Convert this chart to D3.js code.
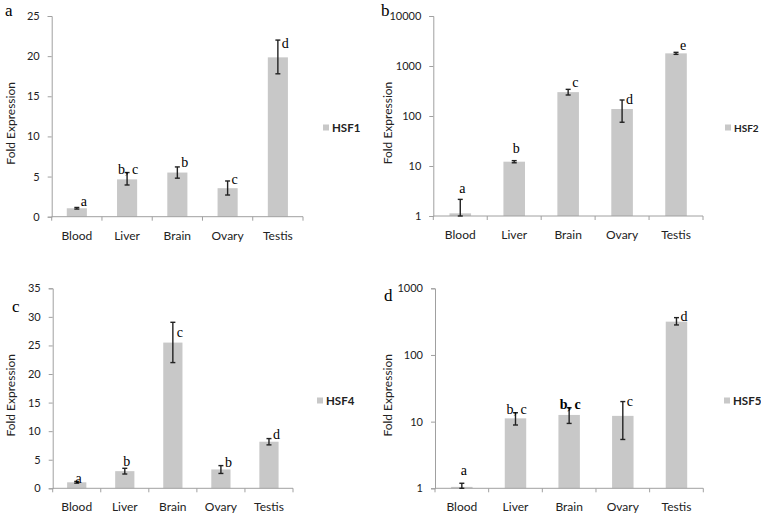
<!DOCTYPE html>
<html>
<head>
<meta charset="utf-8">
<script src="https://cdn.jsdelivr.net/npm/d3@7"></script>
<style>
  body { margin: 0; background: #fff; }
  svg text { font-family: Lato, "Open Sans", sans-serif; }
</style>
</head>
<body>
<svg id="chart" width="761" height="515"></svg>
<script>
// Tissues on the x axis (same for all four panels)
const tissues = ['Blood', 'Liver', 'Brain', 'Ovary', 'Testis'];

// HSF1 (panel a, linear)
const hsf1 = [1.05, 4.65, 5.5, 3.55, 19.85];
const hsf1Lo = [0.95, 3.95, 4.8, 2.7, 17.8];
const hsf1Hi = [1.15, 5.5, 6.2, 4.45, 22.0];
const hsf1Letters = ['a', 'b, c', 'b', 'c', 'd'];

// HSF2 (panel b, log)
const hsf2 = [1.13, 12.2, 300, 138, 1790];
const hsf2Lo = [1, 11.6, 263, 75, 1710];
const hsf2Hi = [2.15, 12.8, 341, 209, 1876];
const hsf2Letters = ['a', 'b', 'c', 'd', 'e'];

// HSF4 (panel c, linear)
const hsf4 = [1.05, 3.0, 25.5, 3.3, 8.15];
const hsf4Lo = [0.9, 2.5, 22.0, 2.6, 7.6];
const hsf4Hi = [1.2, 3.5, 29.05, 3.97, 8.7];
const hsf4Letters = ['a', 'b', 'c', 'b', 'd'];

// HSF5 (panel d, log)
const hsf5 = [1.05, 11.2, 12.6, 12.2, 316];
const hsf5Lo = [1, 8.9, 9.4, 5.4, 282];
const hsf5Hi = [1.19, 13.6, 16.2, 20, 363];
const hsf5Letters = ['a', 'b, c', 'b, c', 'c', 'd'];

const linTicks1 = [0, 5, 10, 15, 20, 25];
const linTicks4 = [0, 5, 10, 15, 20, 25, 30, 35];
const logTicks2 = [1, 10, 100, 1000, 10000];
const logTicks5 = [1, 10, 100, 1000];

// panel layout: axis box, legend spot, where the letters go
// letter mode: r = right of cap, t = centred above cap, c = centred with comma on the bar
const panels = [
  { tag: 'a', tagX: 5, tagY: 16, name: 'HSF1', vals: hsf1, lo: hsf1Lo, hi: hsf1Hi, letters: hsf1Letters,
    log: false, domain: [0, 25], ticks: linTicks1,
    x0: 51.7, x1: 303, y0: 16, y1: 216.7, legX: 323, legY: 128, legSize: 11.5, titleX: 10,
    modes: ['r', 'c', 'r', 'r', 'r'], dy: [-1, 0, 0, 3, 8] },
  { tag: 'b', tagX: 381, tagY: 16, name: 'HSF2', vals: hsf2, lo: hsf2Lo, hi: hsf2Hi, letters: hsf2Letters,
    log: true, domain: [1, 10000], ticks: logTicks2,
    x0: 433.3, x1: 703, y0: 16, y1: 216, legX: 725, legY: 128, legSize: 10, titleX: 387,
    modes: ['t', 't', 'r', 'r', 'r'], dy: [-6, -8, -2, 4, -2] },
  { tag: 'c', tagX: 12, tagY: 312, name: 'HSF4', vals: hsf4, lo: hsf4Lo, hi: hsf4Hi, letters: hsf4Letters,
    log: false, domain: [0, 35], ticks: linTicks4,
    x0: 52.7, x1: 293, y0: 288.3, y1: 488.3, legX: 317, legY: 401, legSize: 11.5, titleX: 10,
    modes: ['t', 't', 'r', 'r', 'r'], dy: [2, -2, 15, 1, 0] },
  { tag: 'd', tagX: 384, tagY: 301, name: 'HSF5', vals: hsf5, lo: hsf5Lo, hi: hsf5Hi, letters: hsf5Letters,
    log: true, domain: [1, 1000], ticks: logTicks5,
    x0: 435, x1: 703.3, y0: 288.3, y1: 488.3, legX: 724, legY: 401, legSize: 11.5, titleX: 387,
    modes: ['t', 'c', 'c', 'r', 'r'], dy: [-8, 0, 0, 4, 3] }
];

const svg = d3.select('#chart');
const barColor = '#c8c8c8';
const axisColor = '#a0a0a0';
const serif = '"Liberation Serif", "DejaVu Serif", serif';

panels.forEach(p => {
  const g = svg.append('g');

  const x = d3.scaleBand().domain(tissues).range([p.x0, p.x1])
    .paddingInner(0.6).paddingOuter(0.3);
  const y = (p.log ? d3.scaleLog() : d3.scaleLinear()).domain(p.domain).range([p.y1, p.y0]);
  const base = p.log ? p.domain[0] : 0;

  // bars
  g.selectAll('rect.bar').data(p.vals).join('rect')
    .attr('class', 'bar')
    .attr('x', (d, i) => x(tissues[i]))
    .attr('width', x.bandwidth())
    .attr('y', d => y(d))
    .attr('height', d => y(base) - y(d))
    .attr('fill', barColor);

  // y axis
  const yAxis = d3.axisLeft(y).tickValues(p.ticks).tickSize(4).tickPadding(8)
    .tickFormat(d3.format('d'));
  const ya = g.append('g').attr('transform', `translate(${p.x0},0)`).call(yAxis);
  ya.select('.domain').attr('stroke', axisColor);
  ya.selectAll('.tick line').attr('stroke', axisColor);
  ya.selectAll('.tick text').attr('fill', '#222')
    .style('font-family', 'Lato, sans-serif').style('font-size', '11px');

  // x axis: line plus ticks at category boundaries
  g.append('line').attr('x1', p.x0).attr('x2', p.x1).attr('y1', p.y1).attr('y2', p.y1)
    .attr('stroke', axisColor);
  const step = x.step();
  d3.range(tissues.length + 1).forEach(k => {
    g.append('line').attr('x1', p.x0 + k * step).attr('x2', p.x0 + k * step)
      .attr('y1', p.y1).attr('y2', p.y1 + 4).attr('stroke', axisColor);
  });
  g.selectAll('text.cat').data(tissues).join('text')
    .attr('class', 'cat')
    .attr('x', d => x(d) + x.bandwidth() / 2)
    .attr('y', p.y1 + 23)
    .attr('text-anchor', 'middle')
    .attr('fill', '#222')
    .style('font-size', '12px')
    .text(d => d);

  // error bars
  p.vals.forEach((v, i) => {
    const cx = x(tissues[i]) + x.bandwidth() / 2;
    const top = y(p.hi[i]);
    const bot = y(Math.max(p.lo[i], p.domain[0]));
    const eb = g.append('g').attr('stroke', '#222').attr('stroke-width', 1.4);
    eb.append('line').attr('x1', cx).attr('x2', cx).attr('y1', top).attr('y2', bot);
    eb.append('line').attr('x1', cx - 2.5).attr('x2', cx + 2.5).attr('y1', top).attr('y2', top);
    eb.append('line').attr('x1', cx - 2.5).attr('x2', cx + 2.5).attr('y1', bot).attr('y2', bot);

    // significance letters
    const m = p.modes[i];
    const t = g.append('text')
      .attr('fill', '#000')
      .style('font-family', serif)
      .style('font-size', '14px')
      .text(p.letters[i]);
    if (p.tag === 'd' && i === 2) t.style('font-weight', 'bold');
    if (m === 'r') {
      t.attr('x', cx + 4).attr('y', top + p.dy[i]).attr('text-anchor', 'start');
    } else if (m === 't') {
      t.attr('x', cx + 2).attr('y', top + p.dy[i]).attr('text-anchor', 'middle');
    } else {
      t.attr('x', cx + 1).attr('y', top + 1 + p.dy[i]).attr('text-anchor', 'middle');
    }
  });

  // y title
  const midY = (p.y0 + p.y1) / 2 + 7;
  g.append('text')
    .attr('transform', `translate(${p.titleX + 5},${midY}) rotate(-90)`)
    .attr('text-anchor', 'middle')
    .attr('fill', '#222')
    .style('font-size', '12px')
    .text('Fold Expression');

  // legend
  g.append('rect').attr('x', p.legX).attr('y', p.legY - 3.5).attr('width', 6).attr('height', 6)
    .attr('fill', barColor);
  g.append('text').attr('x', p.legX + 9).attr('y', p.legY + 4)
    .attr('fill', '#222').style('font-size', p.legSize + 'px').style('font-weight', 'bold').text(p.name);

  // panel tag
  svg.append('text').attr('x', p.tagX).attr('y', p.tagY)
    .style('font-family', serif)
    .style('font-size', '17px').attr('fill', '#000').text(p.tag);
});
</script>
</body>
</html>
